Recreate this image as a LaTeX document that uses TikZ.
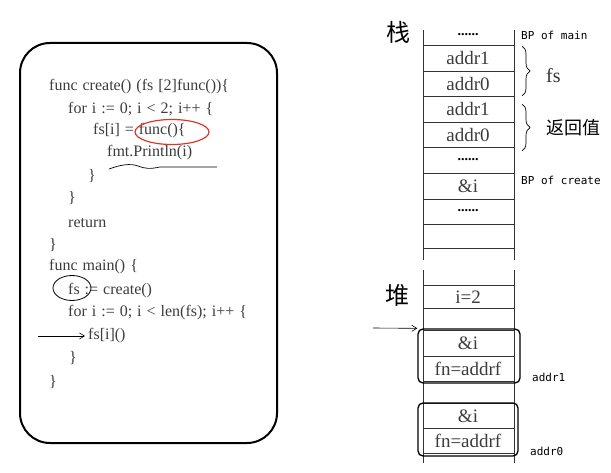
\documentclass[tikz,border=0pt]{standalone}
\usepackage{fontspec}
\setmainfont{Liberation Serif}
\newfontfamily\cjk{Noto Sans CJK SC}
\newfontfamily\hand{DejaVu Sans Mono}
\usetikzlibrary{shapes.geometric,decorations.pathreplacing,arrows.meta}
\definecolor{codegray}{HTML}{3C3C3C}
\definecolor{circred}{HTML}{D8382A}
\newcommand\mycodefont{\fontsize{16}{17}\selectfont\spaceskip=5pt\relax}
\tikzset{
  code/.style={anchor=west,inner sep=0pt,text=codegray,font=\mycodefont},
  cell/.style={inner sep=0pt,text=codegray,font=\fontsize{19}{19}\selectfont},
  dots/.style={inner sep=0pt,font=\bfseries\fontsize{14}{14}\selectfont},
  note/.style={anchor=west,inner sep=0pt,font=\hand\fontsize{11}{12}\selectfont},
  big/.style={inner sep=0pt,font=\cjk\fontsize{24}{24}\selectfont},
  rule/.style={line width=0.8pt,draw=black!80},
  hbox/.style={draw,line width=1.3pt,rounded corners=5pt,inner sep=0pt},
  brc/.style={decorate,decoration={brace,amplitude=8pt},line width=0.7pt},
  thinarrow/.style={-{Straight Barb[length=5pt,width=6pt]},line width=0.6pt}
}
\begin{document}
\begin{tikzpicture}[x=1pt,y=-1pt]
\useasboundingbox (0,0) rectangle (611,473);
% code frame
\draw[line width=2pt,rounded corners=30pt] (20,43) rectangle (277,443);
\node[code] (c1) at (49,87) {func create() (fs [2]func())\{};
\node[code] (c2) at (68,109) {for i := 0; i < 2; i++ \{};
\node[code] (c3) at (93,131) {fs[i] = func()\{};
\node[code] (c4) at (107,153) {fmt.Println(i)};
\node[code] (c5) at (88,176) {\}};
\node[code] (c6) at (68,198) {\}};
\node[code] (c7) at (68,223) {return};
\node[code] (c8) at (49,245) {\}};
\node[code] (c9) at (49,267) {func main() \{};
\node[code] (c10) at (68,291) {fs := create()};
\node[code] (c11) at (68,313) {for i := 0; i < len(fs); i++ \{};
\node[code] (c12) at (88,336) {fs[i]()};
\node[code] (c13) at (69,358) {\}};
\node[code] (c14) at (49,382) {\}};
% annotations on code
\node[ellipse,draw=circred,line width=1.2pt,minimum width=74pt,minimum height=25pt,inner sep=0pt] (redcirc) at (172,132) {};
\node[ellipse,draw,line width=0.8pt,minimum width=38pt,minimum height=25pt,inner sep=0pt] (fscirc) at (72,288) {};
\draw[line width=0.7pt] (109,169) .. controls (120,165) and (130,163) .. (138,166) .. controls (146,169) and (150,169) .. (160,167) -- (217,167);
\coordinate (mstart) at (38,336);
\draw[thinarrow,shorten >=3pt] (mstart) -- (c12.west);
% stack
\node[big] (zhan) at (398,32) {栈};
\draw[rule] (423,30) -- (423,260);
\draw[rule] (514,30) -- (514,260);
\foreach \yy in {45,71,96,122,147,173,199,224,248}
  \draw[rule] (423,\yy) -- (514,\yy);
\node[dots] (s1) at (468,35) {......};
\node[cell] (s2) at (468,58) {addr1};
\node[cell] (s3) at (468,84) {addr0};
\node[cell] (s4) at (468,109) {addr1};
\node[cell] (s5) at (468,135) {addr0};
\node[dots] (s6) at (468,160) {......};
\node[cell] (s7) at (468,186) {\&i};
\node[dots] (s8) at (468,211) {......};
\node[note] (bpmain) at (521,35) {BP of main};
\node[note] (bpcreate) at (521,180) {BP of create};
\draw[brc] (522,46) -- (522,96);
\draw[brc] (522,104) -- (522,151);
\node[cell,anchor=west,text=black!80,font=\fontsize{20}{20}\selectfont] (fslab) at (546,76) {fs};
\node[inner sep=0pt,anchor=west,font=\cjk\fontsize{18}{18}\selectfont] (ret) at (546,128) {返回值};
% heap
\node[big] (dui) at (397,295) {堆};
\draw[rule] (423,270) -- (423,463);
\draw[rule] (514,270) -- (514,463);
\foreach \yy in {285,308,330,356,381,403,428,453}
  \draw[rule] (423,\yy) -- (514,\yy);
\node[cell] (h1) at (468,297) {i=2};
\node[cell] (h2) at (468,343) {\&i};
\node[cell] (h3) at (468,369) {fn=addrf};
\node[cell] (h4) at (468,416) {\&i};
\node[cell] (h5) at (468,441) {fn=addrf};
\node[hbox,minimum width=102pt,minimum height=54pt] (box1) at (469,356) {};
\node[hbox,minimum width=100pt,minimum height=53pt] (box0) at (468,429.5) {};
\node[note] (a1) at (532,377) {addr1};
\node[note] (a0) at (530,451) {addr0};
\coordinate (hstart) at (373,328);
\draw[thinarrow] (hstart) -- (box1.north west);
\end{tikzpicture}
\end{document}
